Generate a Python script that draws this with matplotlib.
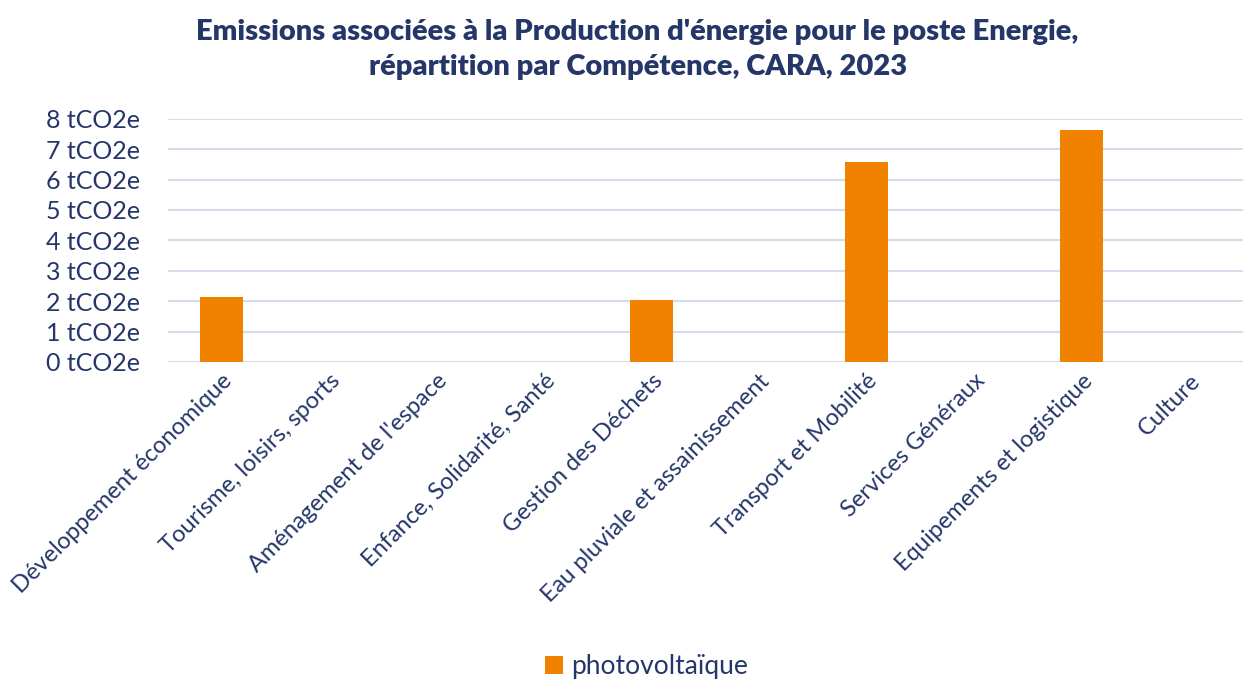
import matplotlib
matplotlib.use("Agg")
import matplotlib.pyplot as plt
import numpy as np

plt.rcParams['font.family'] = ['Lato', 'DejaVu Sans']

categories = ["Développement économique", "Tourisme, loisirs, sports",
              "Aménagement de l'espace", "Enfance, Solidarité, Santé",
              "Gestion des Déchets", "Eau pluviale et assainissement",
              "Transport et Mobilité", "Services Généraux",
              "Equipements et logistique", "Culture"]
values = [2.14, 0, 0, 0, 2.04, 0, 6.58, 0, 7.62, 0]
yticks = [0, 1, 2, 3, 4, 5, 6, 7, 8]

navy = '#253669'
orange = '#F08200'
grid = '#D6DCEC'

fig = plt.figure(figsize=(12.43, 6.79), dpi=100)
ax = fig.add_axes([0.135, 0.467, 0.865, 0.358])

x = np.arange(len(categories))
ax.bar(x, values, width=0.4, color=orange, label='photovoltaïque', zorder=3)

ax.set_xlim(-0.5, len(categories) - 0.5)
ax.set_ylim(0, 8)
ax.set_yticks(yticks)
ax.set_yticklabels([f"{v} tCO2e" for v in yticks], fontsize=18, color=navy)
ax.set_xticks(x)
ax.set_xticklabels(categories, rotation=45, ha='right', rotation_mode='anchor',
                   fontsize=17, color=navy)
ax.tick_params(axis='y', length=0, pad=20)
ax.tick_params(axis='x', length=0, pad=6)
ax.grid(axis='y', color=grid, linewidth=1.5, zorder=0)
for s in ax.spines.values():
    s.set_visible(False)

fig.text(0.513, 0.972, "Emissions associées à la Production d'énergie pour le poste Energie,\n"
         "répartition par Compétence, CARA, 2023",
         ha='center', va='top', fontsize=21, fontweight='heavy', color=navy,
         linespacing=1.45)

fig.legend(loc='lower center', bbox_to_anchor=(0.52, -0.035), frameon=False,
           fontsize=19, labelcolor=navy, handlelength=0.7, handleheight=0.7,
           handletextpad=0.3)

fig.savefig('out.png', dpi=100)
